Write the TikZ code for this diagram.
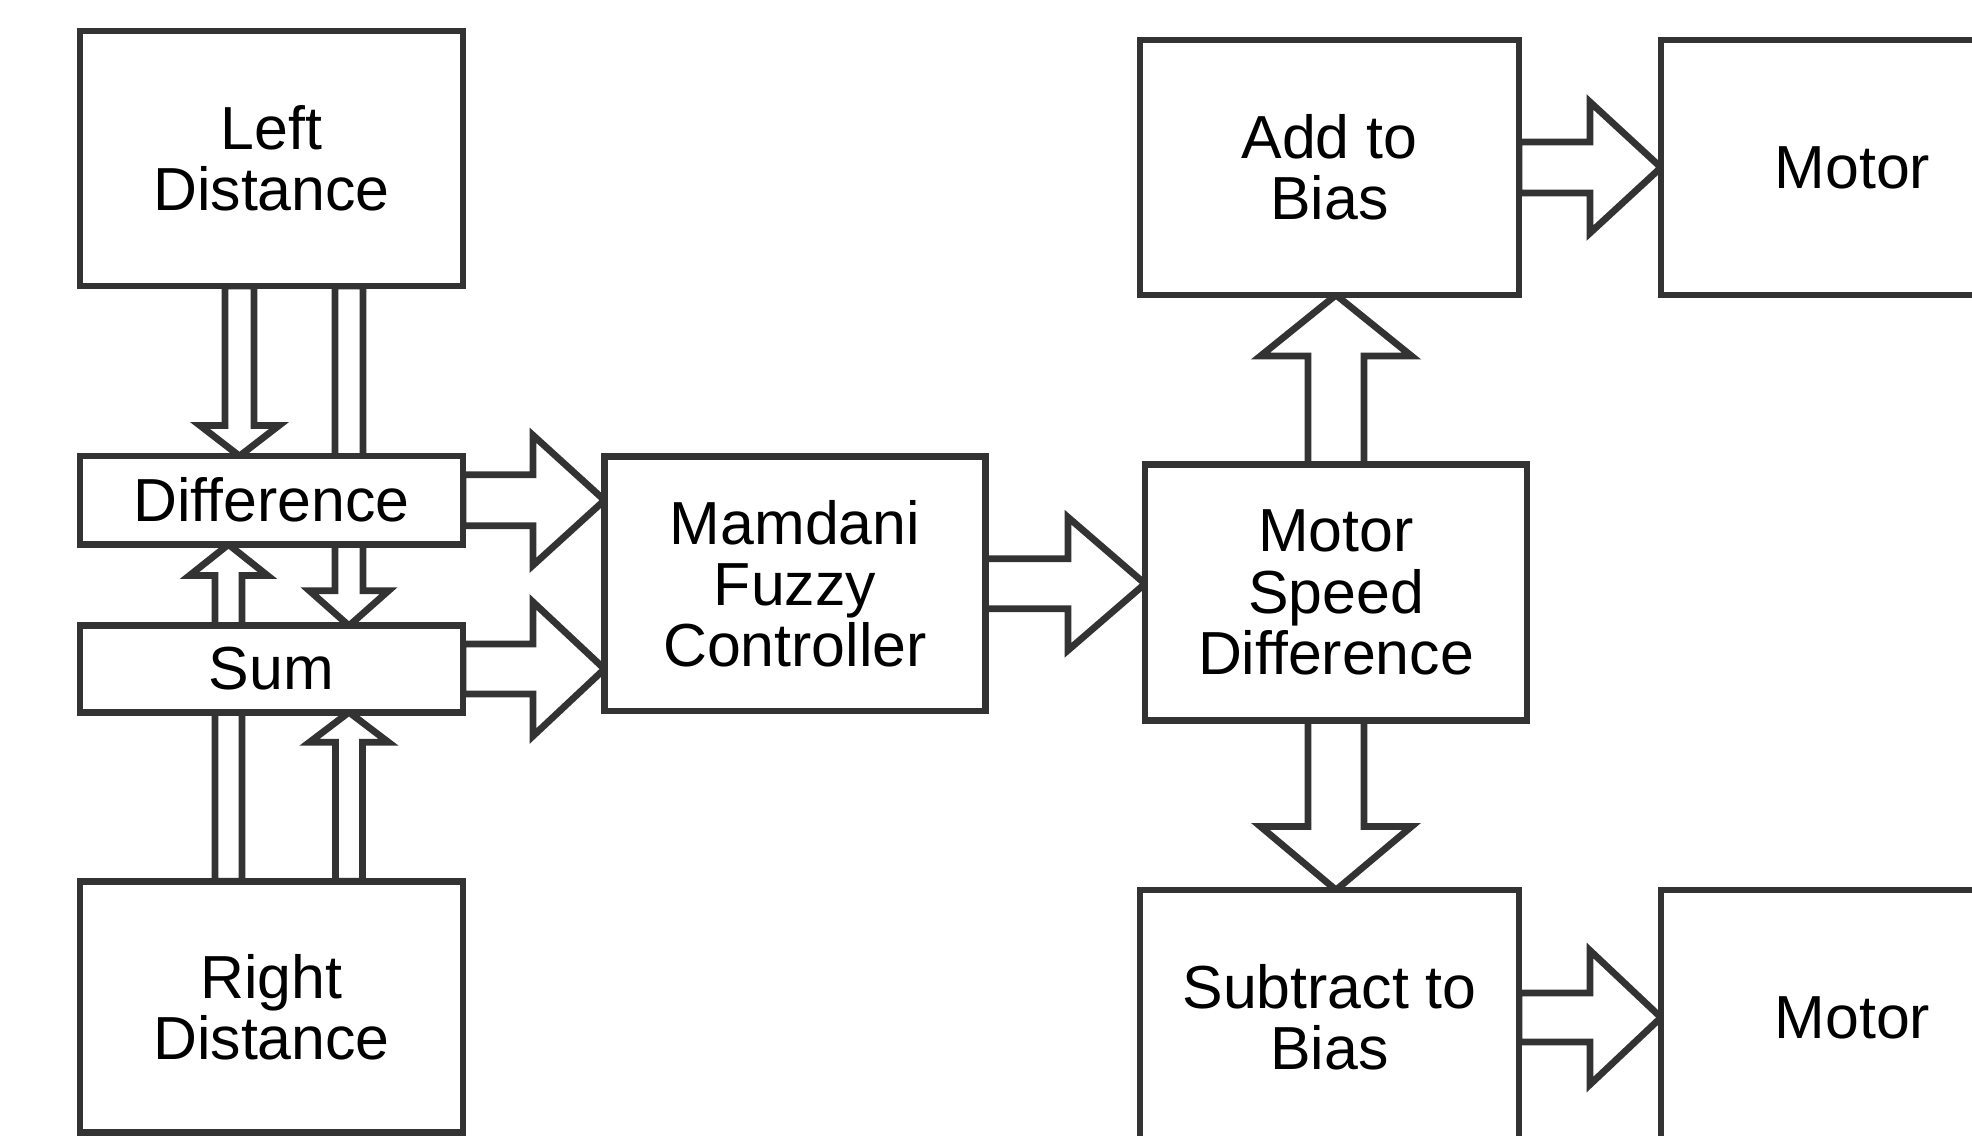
\documentclass[tikz,border=0pt]{standalone}
\usepackage{fontspec}
\setmainfont{Liberation Sans}
\usetikzlibrary{calc,backgrounds}
\definecolor{linegray}{HTML}{333333}
\tikzset{
  box/.style={draw=linegray, line width=0.68mm, fill=white, inner sep=0pt,
    outer sep=0pt, align=center, text=black,
    font=\fontsize{17.3pt}{17.4pt}\selectfont},
  blk/.style={draw=linegray, line width=0.68mm, fill=white, line join=miter},
}
% hollow arrow: tail, tip, shaft half width, head half width, head length (mm)
\newcommand{\blockarrow}[5]{%
  \coordinate (hb) at ($(#2)!#5mm!(#1)$);
  \draw [blk] ($(#1)!#3mm!90:(#2)$) -- ($(hb)!#3mm!90:(#2)$)
    -- ($(hb)!#4mm!90:(#2)$) -- (#2) -- ($(hb)!#4mm!-90:(#2)$)
    -- ($(hb)!#3mm!-90:(#2)$) -- ($(#1)!#3mm!-90:(#2)$) -- cycle;
}

\begin{document}
\begin{tikzpicture}[x=0.1mm, y=-0.1mm]
    \useasboundingbox (0,0) rectangle (1972,1136);

    % blocks
    \node [box, minimum width=38.3mm, minimum height=25.5mm] (left) at (271.5,158.5) {Left\\Distance};
    \node [box, minimum width=38.3mm, minimum height=8.85mm] (diff) at (271.5,500.25) {Difference};
    \node [box, minimum width=38.3mm, minimum height=8.65mm] (sum) at (271.5,669) {Sum};
    \node [box, minimum width=38.3mm, minimum height=25.15mm] (right) at (271.5,1007) {Right\\Distance};
    \node [box, minimum width=38.1mm, minimum height=25.45mm] (mam) at (795,583.75) {Mamdani\\Fuzzy\\Controller};
    \node [box, minimum width=38.2mm, minimum height=25.55mm] (msd) at (1336,592.5) {Motor\\Speed\\Difference};
    \node [box, minimum width=37.9mm, minimum height=25.5mm] (add) at (1329.5,167.5) {Add to\\Bias};
    \node [box, minimum width=37.9mm, minimum height=25.5mm] (sub) at (1329.5,1017.5) {Subtract to\\Bias};
    \node [box, minimum width=38.3mm, minimum height=25.5mm] (mot1) at (1852.5,167.5) {Motor};
    \node [box, minimum width=38.3mm, minimum height=25.5mm] (mot2) at (1852.5,1017.5) {Motor};

    % connections
    \coordinate (ld) at ($(left.south)+(-32,0)$);
    \coordinate (ls) at ($(left.south)+(77.5,0)$);
    \coordinate (rd) at ($(right.north)+(-43,0)$);
    \coordinate (rs) at ($(right.north)+(77.5,0)$);
    \coordinate (ldt) at (diff.north -| ld);
    \coordinate (lst) at (sum.north -| ls);
    \coordinate (rdt) at (diff.south -| rd);
    \coordinate (rst) at (sum.south -| rs);
    \coordinate (dmt) at (mam.west |- diff.east);
    \coordinate (smt) at (mam.west |- sum.east);
    \coordinate (mst) at (msd.west |- mam.east);
    \coordinate (uat) at (add.south -| msd.north);
    \coordinate (ust) at (sub.north -| msd.south);
    \coordinate (a1t) at (mot1.west |- add.east);
    \coordinate (s2t) at (mot2.west |- sub.east);

    \begin{scope}[on background layer]
    \fill [white] (0,0) rectangle (1972,1136);
    \blockarrow{ld}{ldt}{1.45}{3.95}{3.05}
    \blockarrow{ls}{lst}{1.4}{3.95}{3.5}
    \blockarrow{rd}{rdt}{1.35}{3.9}{3.1}
    \blockarrow{rs}{rst}{1.35}{3.95}{3.0}
    \blockarrow{diff.east}{dmt}{2.55}{6.5}{7.15}
    \blockarrow{sum.east}{smt}{2.5}{6.7}{7.15}
    \blockarrow{mam.east}{mst}{2.5}{6.65}{7.7}
    \blockarrow{msd.north}{uat}{2.8}{7.55}{6.1}
    \blockarrow{msd.south}{ust}{2.8}{7.55}{6.35}
    \blockarrow{add.east}{a1t}{2.55}{6.55}{7.1}
    \blockarrow{sub.east}{s2t}{2.45}{6.7}{7.1}
    \end{scope}
\end{tikzpicture}
\end{document}
